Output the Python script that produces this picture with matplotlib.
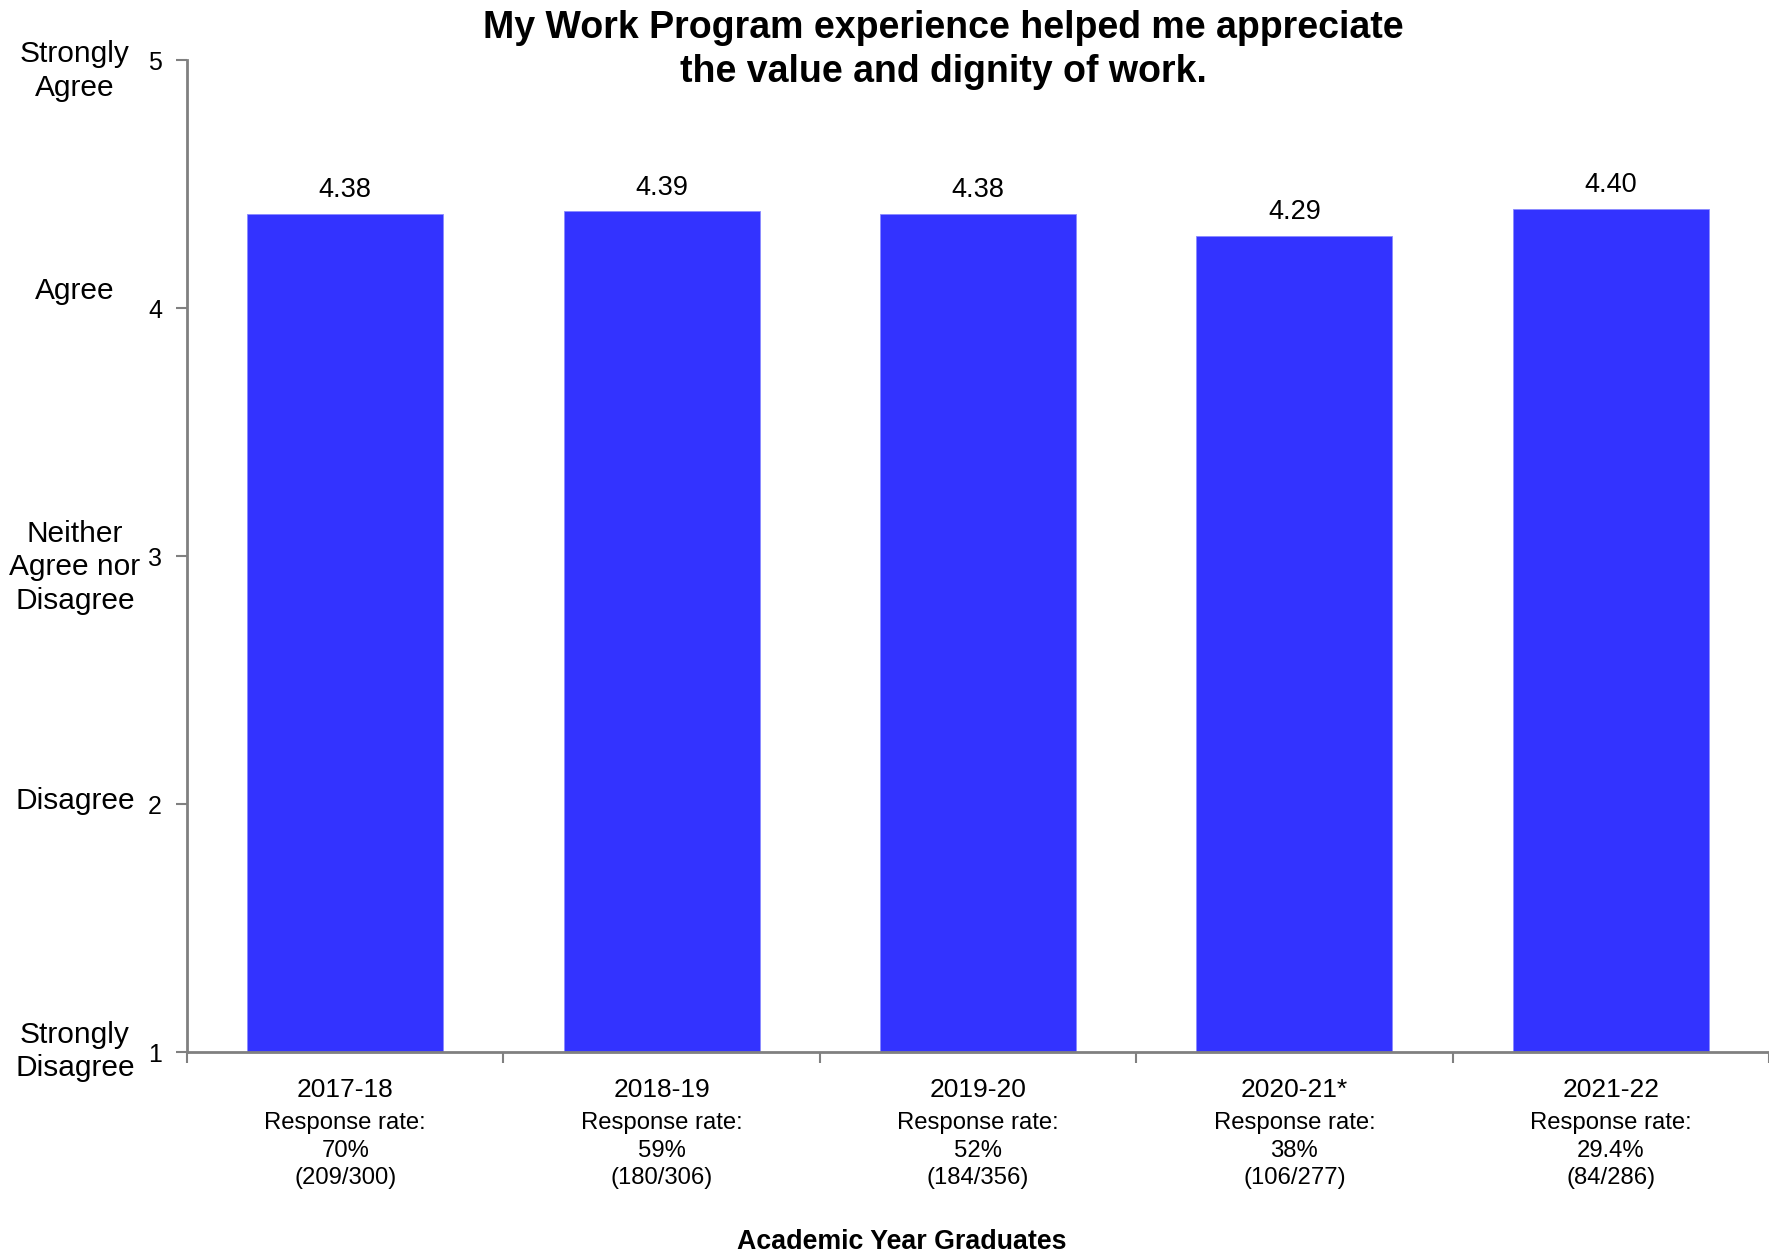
import matplotlib
matplotlib.use('Agg')
import matplotlib.pyplot as plt
import matplotlib.transforms as mtransforms

plt.rcParams['font.family'] = ['Liberation Sans', 'DejaVu Sans']

# ==================== 数据 ====================
years = ['2017-18', '2018-19', '2019-20', '2020-21*', '2021-22']
scores = [4.38, 4.39, 4.38, 4.29, 4.40]
response_info = ['Response rate:\n70%\n(209/300)',
                 'Response rate:\n59%\n(180/306)',
                 'Response rate:\n52%\n(184/356)',
                 'Response rate:\n38%\n(106/277)',
                 'Response rate:\n29.4%\n(84/286)']
scale_labels = ['Strongly\nDisagree', 'Disagree', 'Neither\nAgree nor\nDisagree', 'Agree', 'Strongly\nAgree']
scale_label_y = [1.003, 2.011, 2.954, 4.068, 4.955]

BAR_COLOR = '#3333FF'
AXIS_COLOR = '#808080'

fig = plt.figure(figsize=(17.69, 12.52), dpi=100)
ax = fig.add_axes([187 / 1769, 1 - 1052 / 1252, 1 - 187 / 1769, (1052 - 60) / 1252])

x = list(range(len(years)))
ax.bar(x, scores, width=0.62, bottom=0, color=BAR_COLOR,
       edgecolor='#8a8aff', linewidth=0.6, zorder=2)

ax.set_ylim(1, 5)
ax.set_xlim(-0.5, len(years) - 0.5)

# 数值标签
for xi, s in zip(x, scores):
    ax.annotate(f'{s:.2f}', (xi, s), xytext=(0, 17), textcoords='offset points',
                ha='center', va='center', fontsize=19.5)

# 坐标轴样式
for side in ['top', 'right']:
    ax.spines[side].set_visible(False)
for side in ['left', 'bottom']:
    ax.spines[side].set_color(AXIS_COLOR)
    ax.spines[side].set_linewidth(2)

ax.set_yticks([1, 2, 3, 4, 5])
ax.set_yticklabels(['1', '2', '3', '4', '5'], fontsize=18)
ax.tick_params(axis='y', length=8, width=1.5, color=AXIS_COLOR, pad=10)

# x轴刻度在类别之间
ax.set_xticks([i + 0.5 for i in range(-1, len(years))])
ax.set_xticklabels([])
ax.tick_params(axis='x', length=8, width=1.5, color=AXIS_COLOR, direction='out')

# 类别标签
for xi, yr, info in zip(x, years, response_info):
    ax.text(xi, -0.038, yr, transform=ax.get_xaxis_transform(),
            ha='center', va='center', fontsize=19)
    ax.text(xi, -0.0995, info, transform=ax.get_xaxis_transform(),
            ha='center', va='center', fontsize=17.2, linespacing=1.33)

# 量表文字标签
blend = mtransforms.blended_transform_factory(fig.transFigure, ax.transData)
for lab, yv in zip(scale_labels, scale_label_y):
    ax.text(75 / 1769, yv, lab, transform=blend, ha='center', va='center',
            fontsize=21.5, linespacing=1.25, clip_on=False)

fig.text(943 / 1769, 1 - 50 / 1252,
         'My Work Program experience helped me appreciate\nthe value and dignity of work.',
         ha='center', va='center', fontsize=27, fontweight='bold', linespacing=1.25)

fig.text(902 / 1769, 1 - 1242 / 1252, 'Academic Year Graduates',
         ha='center', va='center', fontsize=19.3, fontweight='bold')

fig.savefig('out.png', dpi=100)
